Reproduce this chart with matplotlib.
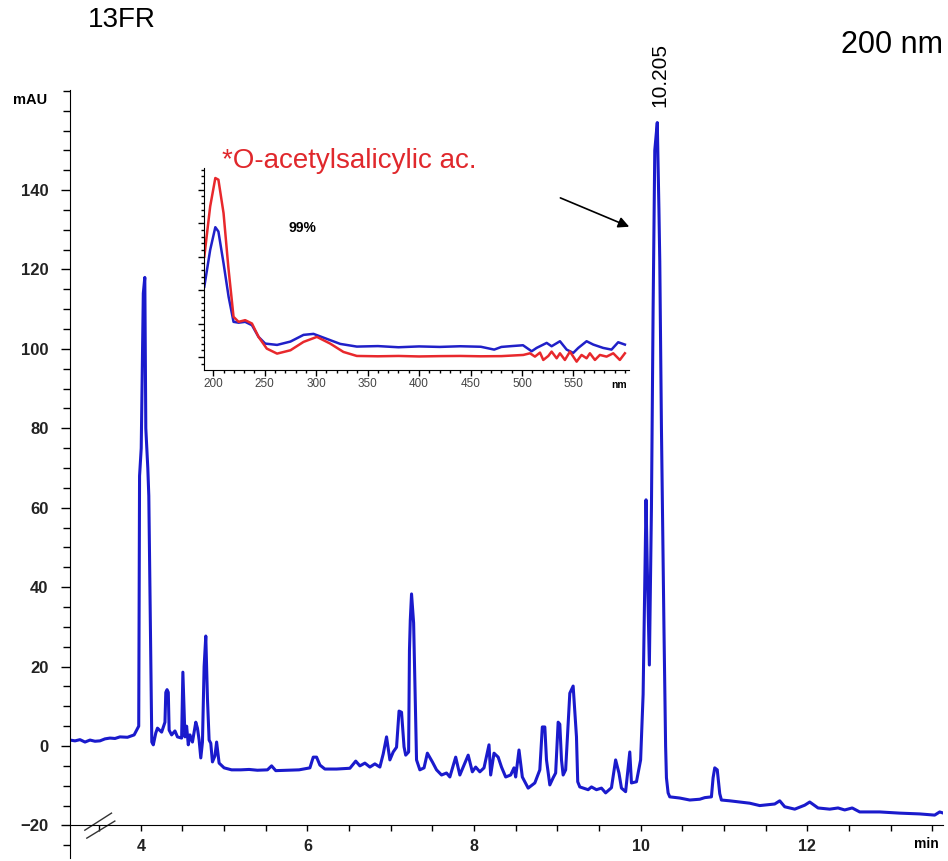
import numpy as np
import matplotlib
matplotlib.use("Agg")
import matplotlib.pyplot as plt
from matplotlib.ticker import MultipleLocator, FixedLocator

plt.rcParams['font.family'] = ['Liberation Sans', 'DejaVu Sans']

# chromatogram at 200 nm (time in min, signal in mAU)
times = [3.15, 3.21, 3.27, 3.33, 3.39, 3.45, 3.51, 3.57, 3.63, 3.69, 3.75, 3.84, 3.92, 3.95, 3.975,
         3.985, 4.005, 4.03, 4.048, 4.06, 4.084, 4.096, 4.132, 4.15, 4.18, 4.20, 4.25, 4.29, 4.30,
         4.315, 4.33, 4.34, 4.37, 4.41, 4.44, 4.49, 4.505, 4.53, 4.55, 4.57, 4.59, 4.62, 4.66, 4.68,
         4.70, 4.72, 4.74, 4.76, 4.78, 4.80, 4.82, 4.84, 4.86, 4.89, 4.91, 4.94, 5.00, 5.09, 5.2,
         5.3, 5.4, 5.52, 5.57, 5.62, 5.75, 5.9, 6.03, 6.07, 6.11, 6.15, 6.21, 6.35, 6.51, 6.58, 6.63,
         6.69, 6.75, 6.81, 6.87, 6.91, 6.95, 6.99, 7.03, 7.07, 7.10, 7.13, 7.16, 7.18, 7.215, 7.225,
         7.235, 7.25, 7.275, 7.30, 7.31, 7.35, 7.40, 7.44, 7.50, 7.55, 7.61, 7.67, 7.71, 7.78, 7.83,
         7.93, 7.98, 8.02, 8.07, 8.12, 8.18, 8.20, 8.24, 8.29, 8.33, 8.38, 8.44, 8.48, 8.50, 8.54,
         8.58, 8.65, 8.73, 8.79, 8.82, 8.85, 8.87, 8.91, 8.95, 8.98, 9.01, 9.03, 9.05, 9.07, 9.10,
         9.15, 9.19, 9.23, 9.245, 9.27, 9.37, 9.41, 9.47, 9.53, 9.58, 9.65, 9.70, 9.74, 9.77, 9.82,
         9.87, 9.89, 9.95, 10.0, 10.03, 10.05, 10.065, 10.08, 10.105, 10.13, 10.15, 10.17, 10.20,
         10.22, 10.23, 10.25, 10.28, 10.30, 10.31, 10.33, 10.35, 10.47, 10.59, 10.71, 10.77, 10.85,
         10.87, 10.89, 10.92, 10.95, 10.97, 11.07, 11.31, 11.43, 11.61, 11.67, 11.73, 11.85, 11.97,
         12.03, 12.13, 12.27, 12.37, 12.45, 12.54, 12.63, 12.87, 13.11, 13.35, 13.53, 13.59, 13.62]
mau = [1.5, 1.3, 1.6, 1.0, 1.5, 1.2, 1.3, 1.8, 2.0, 1.9, 2.3, 2.2, 2.8, 4.0, 5.0,
       68, 75, 114, 118, 80, 70, 63, 1.0, 0.3, 3.3, 4.5, 3.5, 6.0, 13.5,
       14.2, 13.5, 4.0, 2.8, 3.8, 2.3, 2.0, 18.6, 2.3, 5.0, 0.3, 2.8, 1.0, 6.0, 4.5,
       1.5, -3.0, 1.0, 20, 27.7, 12, 1.5, 0.7, -4.0, -2.5, 1.0, -4.3, -5.5, -6.0, -6.0,
       -5.9, -6.1, -6.0, -5.0, -6.2, -6.1, -6.0, -5.5, -2.8, -2.8, -4.8, -5.8, -5.8, -5.6, -3.8, -5.0,
       -4.3, -5.3, -4.5, -5.3, -2.0, 2.3, -3.5, -1.5, -0.3, 8.8, 8.5, -0.2, -2.3, -1.5, 24,
       31.7, 38.3, 31, 6.5, -3.5, -6.0, -5.5, -1.8, -4.0, -6.0, -7.3, -6.8, -7.8, -2.8, -7.3,
       -2.3, -6.5, -5.3, -6.5, -5.5, 0.3, -7.3, -1.8, -2.8, -5.3, -7.8, -7.3, -5.5, -7.8, -1.0,
       -7.8, -10.6, -9.3, -6.0, 4.8, 4.8, -3.5, -9.8, -8.0, -6.8, 6.0, 5.5, -3.5, -7.3, -6.0,
       13.3, 15.1, 2.3, -9.0, -10.3, -11.0, -10.3, -11.0, -10.6, -11.8, -10.5, -3.5, -6.8, -10.6, -11.5,
       -1.5, -9.3, -9.0, -3.5, 13, 40, 62, 45, 20.4, 60, 110, 150, 157,
       135, 122, 80, 30, 0, -8, -11.8, -12.8, -13.1, -13.6, -13.4, -13.0, -12.8,
       -8, -5.5, -6, -12, -13.6, -13.8, -14.4, -15.0, -14.6, -13.8, -15.3, -15.9, -14.9,
       -14.1, -15.6, -15.9, -15.6, -16.1, -15.6, -16.6, -16.6, -16.9, -17.1, -17.4, -16.6, -16.8]
y_labels = [-20, 0, 20, 40, 60, 80, 100, 120, 140]

# UV spectra of the 10.205 peak (blue) and the library match (red)
red_nm = [191.3, 197, 202, 205, 210, 214.6, 219.7, 224.6, 231, 237.6, 244, 252, 262, 275, 287.7,
          300.7, 313.6, 326.5, 339.5, 360, 380, 400, 420, 440, 460, 480, 501.3, 507.8, 512.6,
          517.5, 520.7, 525.6, 528.8, 533.7, 536.9, 541.7, 546.6, 553.1, 557.9, 562.8, 566,
          570.9, 575.7, 582.2, 588.7, 595.1, 600]
red_abs = [60, 90, 107, 106, 86, 54, 24, 21, 22, 20, 12, 5, 2, 4, 9,
           12, 8, 3, 0.6, 0.4, 0.6, 0.3, 0.5, 0.6, 0.4, 0.5, 1.2, 2.2, 0.2,
           2.6, -1.8, 0.6, 3.2, -0.8, 2.2, -1.8, 3.2, -2.8, 1.2, -0.8, 2.2,
           -1.8, 1.2, 0.2, 2.2, -1.8, 2.2]
blue_nm = [191.3, 197, 202, 205, 210, 214.9, 219.7, 224.6, 231, 237.6, 244, 250.5, 262, 275, 287.7,
           297.4, 310.4, 323.4, 339.5, 360, 380, 400, 420, 440, 460, 473, 480, 490, 501, 509.4,
           514.2, 524, 528.8, 536.9, 543.4, 549.8, 554.7, 562.8, 569.3, 578.9, 587, 593.5, 600]
blue_abs = [42, 64, 77.6, 75, 56, 36, 21, 20.5, 21, 19, 12, 8, 7.2, 9.2, 13.2,
            13.8, 10.8, 7.8, 6.2, 6.5, 5.8, 6.3, 6.0, 6.4, 6.1, 4.4, 6.0, 6.5, 7.0, 3.4,
            5.4, 8.4, 6.4, 9.4, 4.4, 2.4, 5.4, 9.4, 7.4, 5.4, 4.4, 8.8, 7.4]
nm_labels = [200, 250, 300, 350, 400, 450, 500, 550]

W, H = 948, 861
fig = plt.figure(figsize=(W / 100, H / 100), dpi=100)

# main chromatogram
ax = fig.add_axes([70 / W, 3 / H, 873 / W, 768 / H])
ax.set_facecolor('none')
ax.plot(times, mau, color='#1a1acc', lw=2.2)
ax.set_xlim(3.15, 13.63)
ax.set_ylim(-28.2, 165.2)
ax.spines['top'].set_visible(False)
ax.spines['right'].set_visible(False)
ax.spines['bottom'].set_position(('data', -20))
ax.xaxis.set_major_locator(MultipleLocator(2))
ax.xaxis.set_minor_locator(MultipleLocator(0.5))
ax.yaxis.set_major_locator(FixedLocator(y_labels))
ax.yaxis.set_minor_locator(MultipleLocator(5))
ax.tick_params(axis='y', which='major', length=6.5, width=1, pad=9, labelsize=12, labelcolor='#222222')
ax.tick_params(axis='y', which='minor', length=5, width=1)
ax.tick_params(axis='x', which='major', length=4.5, width=1, pad=5, labelsize=11.5, labelcolor='#222222')
ax.tick_params(axis='x', which='minor', length=4.5, width=1)
for lab in ax.get_xticklabels() + ax.get_yticklabels():
    lab.set_fontweight('bold')

# axis break mark
ax.plot([3.328, 3.648], [-21.2, -16.9], color='#333333', lw=1, clip_on=False)
ax.plot([3.352, 3.688], [-23.2, -18.9], color='#333333', lw=1, clip_on=False)

# arrow to the peak
ax.annotate('', xy=(9.894, 130.5), xytext=(9.006, 138.3),
            arrowprops=dict(arrowstyle='-|>', color='black', lw=1.2, mutation_scale=16))

ax.text(10.235, 161, '10.205', rotation=90, ha='center', va='bottom', fontsize=15)

# inset with the spectra
ins = fig.add_axes([204 / W, (H - 370) / H, 425 / W, 202 / H])
ins.set_facecolor('none')
ins.plot(blue_nm, blue_abs, color='#2020c8', lw=1.8)
ins.plot(red_nm, red_abs, color='#e8282c', lw=1.8)
ins.set_xlim(191, 604)
ins.set_ylim(-7.8, 113)
ins.spines['top'].set_visible(False)
ins.spines['right'].set_visible(False)
ins.xaxis.set_major_locator(FixedLocator(nm_labels))
ins.xaxis.set_minor_locator(MultipleLocator(10))
ins.yaxis.set_major_locator(MultipleLocator(20))
ins.yaxis.set_minor_locator(MultipleLocator(4))
ins.set_yticklabels([])
ins.tick_params(axis='both', which='major', length=4, width=1, labelsize=8.5, labelcolor='#444444', pad=2)
ins.tick_params(axis='both', which='minor', length=2.5, width=1)
ins.text(594, -14, 'nm', ha='center', va='top', fontsize=7.5, fontweight='bold')

# labels in figure pixels
fig.text(222 / W, 1 - 161 / H, '*O-acetylsalicylic ac.', color='#e0282c', fontsize=20,
         ha='left', va='center')
fig.text(302 / W, 1 - 228 / H, '99%', ha='center', va='center', fontsize=10, fontweight='bold')
fig.text(88 / W, 1 - 20 / H, '13FR', ha='left', va='center', fontsize=20)
fig.text(943 / W, 1 - 45 / H, '200 nm', ha='right', va='center', fontsize=22)
fig.text(30 / W, 1 - 100 / H, 'mAU', ha='center', va='center', fontsize=10.5, fontweight='bold')
fig.text(926 / W, 1 - 844 / H, 'min', ha='center', va='center', fontsize=10, fontweight='bold')

fig.savefig('out.png', dpi=100)
